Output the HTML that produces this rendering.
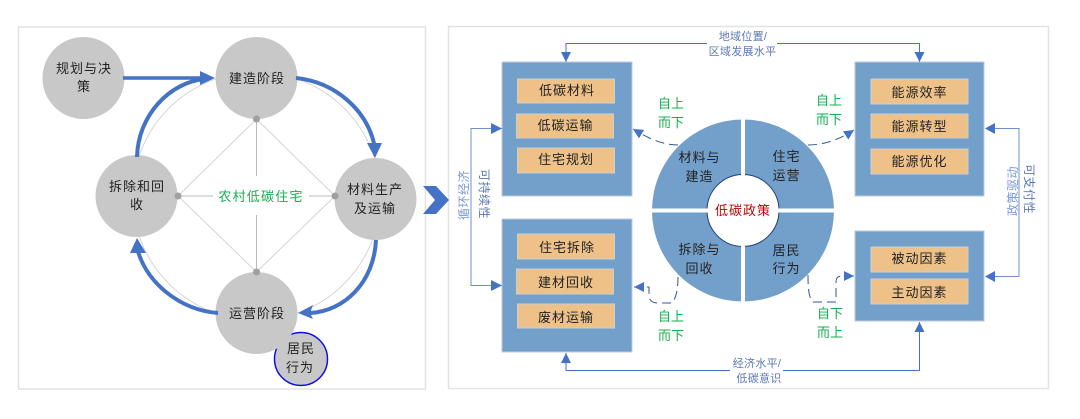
<!DOCTYPE html>
<html><head><meta charset="utf-8"><style>
html,body{margin:0;padding:0;background:#fff}
svg{display:block}
text{font-family:"Liberation Sans","Noto Sans CJK SC",sans-serif;text-anchor:middle}
.k{font-size:13px;fill:#222;letter-spacing:1px}
.g{font-size:13px;fill:#12b04c}
</style></head><body>
<svg width="1080" height="419" viewBox="0 0 1080 419" xmlns="http://www.w3.org/2000/svg">
<defs>
<marker id="t" markerUnits="userSpaceOnUse" markerWidth="12" markerHeight="12" refX="10" refY="5" orient="auto"><path d="M0 0L10 5L0 10Z" fill="#4472c4"/></marker>
</defs>
<rect x="18.500" y="27" width="407" height="362" fill="#fff" stroke="#e2e2e2" stroke-width="1.500"/>
<rect x="448.500" y="26.500" width="600" height="362" fill="#fff" stroke="#e2e2e2" stroke-width="1.500"/>

<!-- left diagram -->
<circle cx="256.500" cy="196" r="124" fill="none" stroke="#d4d4d4" stroke-width="1"/>
<path d="M256.500 119L178 196L256.500 272L335 196Z" fill="none" stroke="#d4d4d4" stroke-width="1"/>
<path d="M256.500 119V176M256.500 215V272M178 196H213M309 196H335" fill="none" stroke="#bdbdbd" stroke-width="1"/>
<circle cx="83.500" cy="78" r="41" fill="#c8c8c8"/>
<circle cx="256.500" cy="78" r="41" fill="#c8c8c8"/>
<circle cx="375.500" cy="199" r="41" fill="#c8c8c8"/>
<circle cx="136.500" cy="196" r="41" fill="#c8c8c8"/>
<circle cx="301" cy="359" r="26.500" fill="#c8c8c8" stroke="#1010e0" stroke-width="1.500"/>
<circle cx="256.500" cy="313" r="41" fill="#c8c8c8"/>
<g fill="#a0a0a0"><circle cx="256.500" cy="119" r="3.500"/><circle cx="178" cy="196" r="3.500"/><circle cx="335" cy="196" r="3.500"/><circle cx="256.500" cy="272" r="3.500"/></g>
<g fill="none" stroke="#4472c4" stroke-width="4">
<path d="M123 78H206" stroke-width="3.500"/>
<path d="M137 157C138 115 170 82 205 79"/>
<path d="M296 78C335 82 368 110 375 148"/>
<path d="M376 240C374 282 345 311 310 313"/>
<path d="M218 313C180 310 146 283 137 248"/>
</g>
<g fill="#4472c4">
<path d="M200 71L215 78L200 85Z"/>
<path d="M367 143L382 143L375 158Z"/>
<path d="M313 305L298 313L313 319L310 313Z"/>
<path d="M130 253L137 238L146 253Z"/>
</g>
<text class="k" x="84" y="73">规划与决</text><text class="k" x="84" y="91">策</text>
<text class="k" x="257" y="83">建造阶段</text>
<text class="k" x="375" y="194">材料生产</text><text class="k" x="375" y="213">及运输</text>
<text class="k" x="137" y="191">拆除和回</text><text class="k" x="137" y="209">收</text>
<text class="k" x="257" y="318">运营阶段</text>
<text class="k" x="301" y="353">居民</text><text class="k" x="300" y="372">行为</text>
<text x="261" y="201" style="font-size:13px;fill:#12b04c;letter-spacing:1.200px">农村低碳住宅</text>

<!-- chevron -->
<path d="M423 186H436L449 200L436 214H423L435 200Z" fill="#4472c4"/>

<!-- boxes -->
<g fill="#739fcb" stroke="#bccbdc" stroke-width="1">
<rect x="502" y="62" width="130" height="134"/>
<rect x="502" y="219" width="130" height="133"/>
<rect x="855" y="62" width="129" height="134"/>
<rect x="855" y="231" width="129" height="90"/>
</g>
<g fill="#edc187" stroke="#c9d0d6" stroke-width="1">
<rect x="517.500" y="79" width="97" height="24"/>
<rect x="516.500" y="114" width="97" height="24"/>
<rect x="517.500" y="148" width="97" height="25"/>
<rect x="517.500" y="234" width="97" height="25"/>
<rect x="516.500" y="269" width="97" height="25"/>
<rect x="517.500" y="304" width="97" height="24"/>
<rect x="871" y="79" width="97" height="25"/>
<rect x="871" y="114" width="97" height="24"/>
<rect x="871" y="149" width="97" height="25"/>
<rect x="871" y="247" width="97" height="25"/>
<rect x="871" y="279" width="97" height="25"/>
</g>
<text class="k" x="567" y="95">低碳材料</text>
<text class="k" x="565.500" y="130">低碳运输</text>
<text class="k" x="566" y="164">住宅规划</text>
<text class="k" x="567" y="252">住宅拆除</text>
<text class="k" x="566" y="287">建材回收</text>
<text class="k" x="566" y="322">废材运输</text>
<text class="k" x="919.500" y="97">能源效率</text>
<text class="k" x="919.500" y="131">能源转型</text>
<text class="k" x="919.500" y="166">能源优化</text>
<text class="k" x="919.500" y="263">被动因素</text>
<text class="k" x="919.500" y="297">主动因素</text>

<!-- donut -->
<circle cx="743" cy="210.500" r="91" fill="#739fcb"/>
<path d="M743 119V302M652 210.500H834" stroke="#fff" stroke-width="4"/>
<circle cx="743" cy="210.500" r="36" fill="#fff" stroke="#1f3d7a" stroke-width="1"/>
<path d="M741 174H745M741 247H745M707 208.500V212.500M779 208.500V212.500" stroke="#fff" stroke-width="2"/>
<text x="699.500" y="162" class="k">材料与</text><text x="699.500" y="181" class="k">建造</text>
<text x="786.500" y="161" class="k">住宅</text><text x="786.500" y="180" class="k">运营</text>
<text x="699.500" y="254" class="k">拆除与</text><text x="699.500" y="273" class="k">回收</text>
<text x="786.500" y="255" class="k">居民</text><text x="786.500" y="273" class="k">行为</text>
<text x="743" y="215" style="font-size:13px;fill:#c00000;letter-spacing:1px">低碳政策</text>

<!-- dashed arrows -->
<g fill="none" stroke="#2f5597" stroke-width="1" stroke-dasharray="9 5">
<path d="M678 145C662 145 648 138 633 129" marker-end="url(#t)"/>
<path d="M808 145C825 145 840 139 854 130" marker-end="url(#t)"/>
<path d="M678 277C678 290 676 298 672 303H658Q649 303 649 295V287H634" marker-end="url(#t)"/>
<path d="M808 275C808 290 809 298 813 302H836V282Q836 276 842 276H854" marker-end="url(#t)"/>
</g>
<text class="g" x="671" y="108">自上</text><text class="g" x="671" y="127">而下</text>
<text class="g" x="829" y="105">自上</text><text class="g" x="829" y="124">而下</text>
<text class="g" x="671" y="321">自上</text><text class="g" x="671" y="340">而下</text>
<text class="g" x="830" y="318">自下</text><text class="g" x="830" y="337">而上</text>

<!-- solid connectors -->
<g fill="none" stroke="#4472c4" stroke-width="1">
<path d="M707 43.500H566V62" marker-end="url(#t)"/>
<path d="M777 43.500H919.500V62" marker-end="url(#t)"/>
<path d="M730 370.500H566V353" marker-end="url(#t)"/>
<path d="M783 370.500H919.500V322" marker-end="url(#t)"/>
<path d="M502 128.500H471V285.500H502" stroke="#6d8fd0"/>
<path d="M986 128.500H1019V276.500H986" stroke="#6d8fd0"/>
</g>
<g fill="#4472c4">
<path d="M491 123L502 128.500L491 134Z"/>
<path d="M491 280L502 285.500L491 291Z"/>
<path d="M995 123L985 128.500L995 134Z"/>
<path d="M995 271L985 276.500L995 282Z"/>
</g>
<g style="font-size:11px;fill:#5b78b4;letter-spacing:.3px">
<text x="743" y="40">地域位置/</text>
<text x="742.500" y="55">区域发展水平</text>
<text x="757" y="367">经济水平/</text>
<text x="759" y="382">低碳意识</text>
</g>
<g style="font-size:12px;fill:#7a98d4;letter-spacing:.5px">
<text transform="translate(468,195) rotate(-90)">循环经济</text>
<text transform="translate(480,194) rotate(90)" style="fill:#5b78b4">可持续性</text>
<text transform="translate(1017,191) rotate(-90)">政策驱动</text>
<text transform="translate(1025,189) rotate(90)" style="fill:#5b78b4">可支付性</text>
</g>
</svg>
</body></html>
